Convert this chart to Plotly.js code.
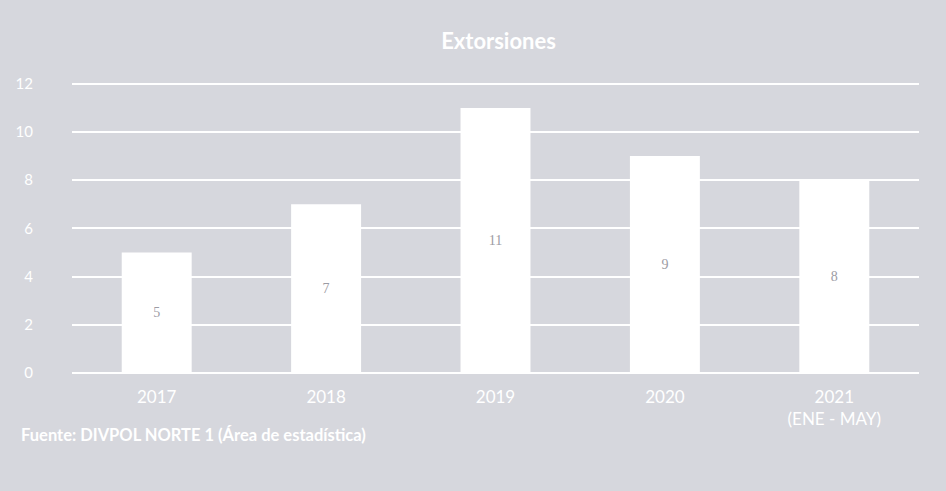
<!DOCTYPE html>
<html>
<head>
<meta charset="utf-8">
<script src="https://cdn.plot.ly/plotly-3.0.1.min.js"></script>
<style>html,body{margin:0;padding:0;background:#d6d7dd;}#chart{width:946px;height:491px;}</style>
</head>
<body>
<div id="chart"></div>
<script>
const categories = ["2017", "2018", "2019", "2020", "2021<br>(ENE - MAY)"];
const values = [5, 7, 11, 9, 8];
const yTicks = [0, 2, 4, 6, 8, 10, 12];
const chartTitle = "Extorsiones";
const sourceNote = "Fuente: DIVPOL NORTE 1 (Área de estadística)";

const font = "Lato, 'Open Sans', sans-serif";

Plotly.newPlot('chart', [{
  type: 'bar',
  x: categories,
  y: values,
  marker: {color: '#ffffff', line: {width: 0}},
  text: values.map(String),
  textposition: 'inside',
  insidetextanchor: 'middle',
  textfont: {family: "'Liberation Serif', serif", size: 14, color: '#9c9ca4'},
  hoverinfo: 'none'
}], {
  width: 946, height: 491,
  paper_bgcolor: '#d6d7dd',
  plot_bgcolor: '#d6d7dd',
  margin: {l: 72, r: 27, t: 79, b: 118},
  bargap: 0.587,
  showlegend: false,
  title: {text: '<b>' + chartTitle + '</b>', x: 0.527, xanchor: 'center', y: 0.915, yanchor: 'middle',
          font: {family: font, size: 22, color: '#ffffff'}},
  xaxis: {type: 'category', showgrid: false, zeroline: false, showline: false,
          tickfont: {family: font, size: 17, color: '#ffffff'}, ticks: '', ticklabelstandoff: 12},
  yaxis: {range: [0, 12.2], tickvals: yTicks, ticktext: yTicks.map(String),
          showgrid: true, gridcolor: '#ffffff', gridwidth: 2, zeroline: true, zerolinecolor: '#ffffff', zerolinewidth: 2,
          showline: false, ticks: '', ticklabelstandoff: 38, tickfont: {family: font, size: 15, color: '#ffffff'}},
  annotations: [{
    text: '<b>' + sourceNote + '</b>', xref: 'paper', yref: 'paper',
    x: -0.062, y: -0.21, xanchor: 'left', yanchor: 'middle', showarrow: false,
    font: {family: font, size: 16.5, color: '#ffffff'}
  }]
}, {displayModeBar: false, staticPlot: true});
</script>
</body>
</html>
